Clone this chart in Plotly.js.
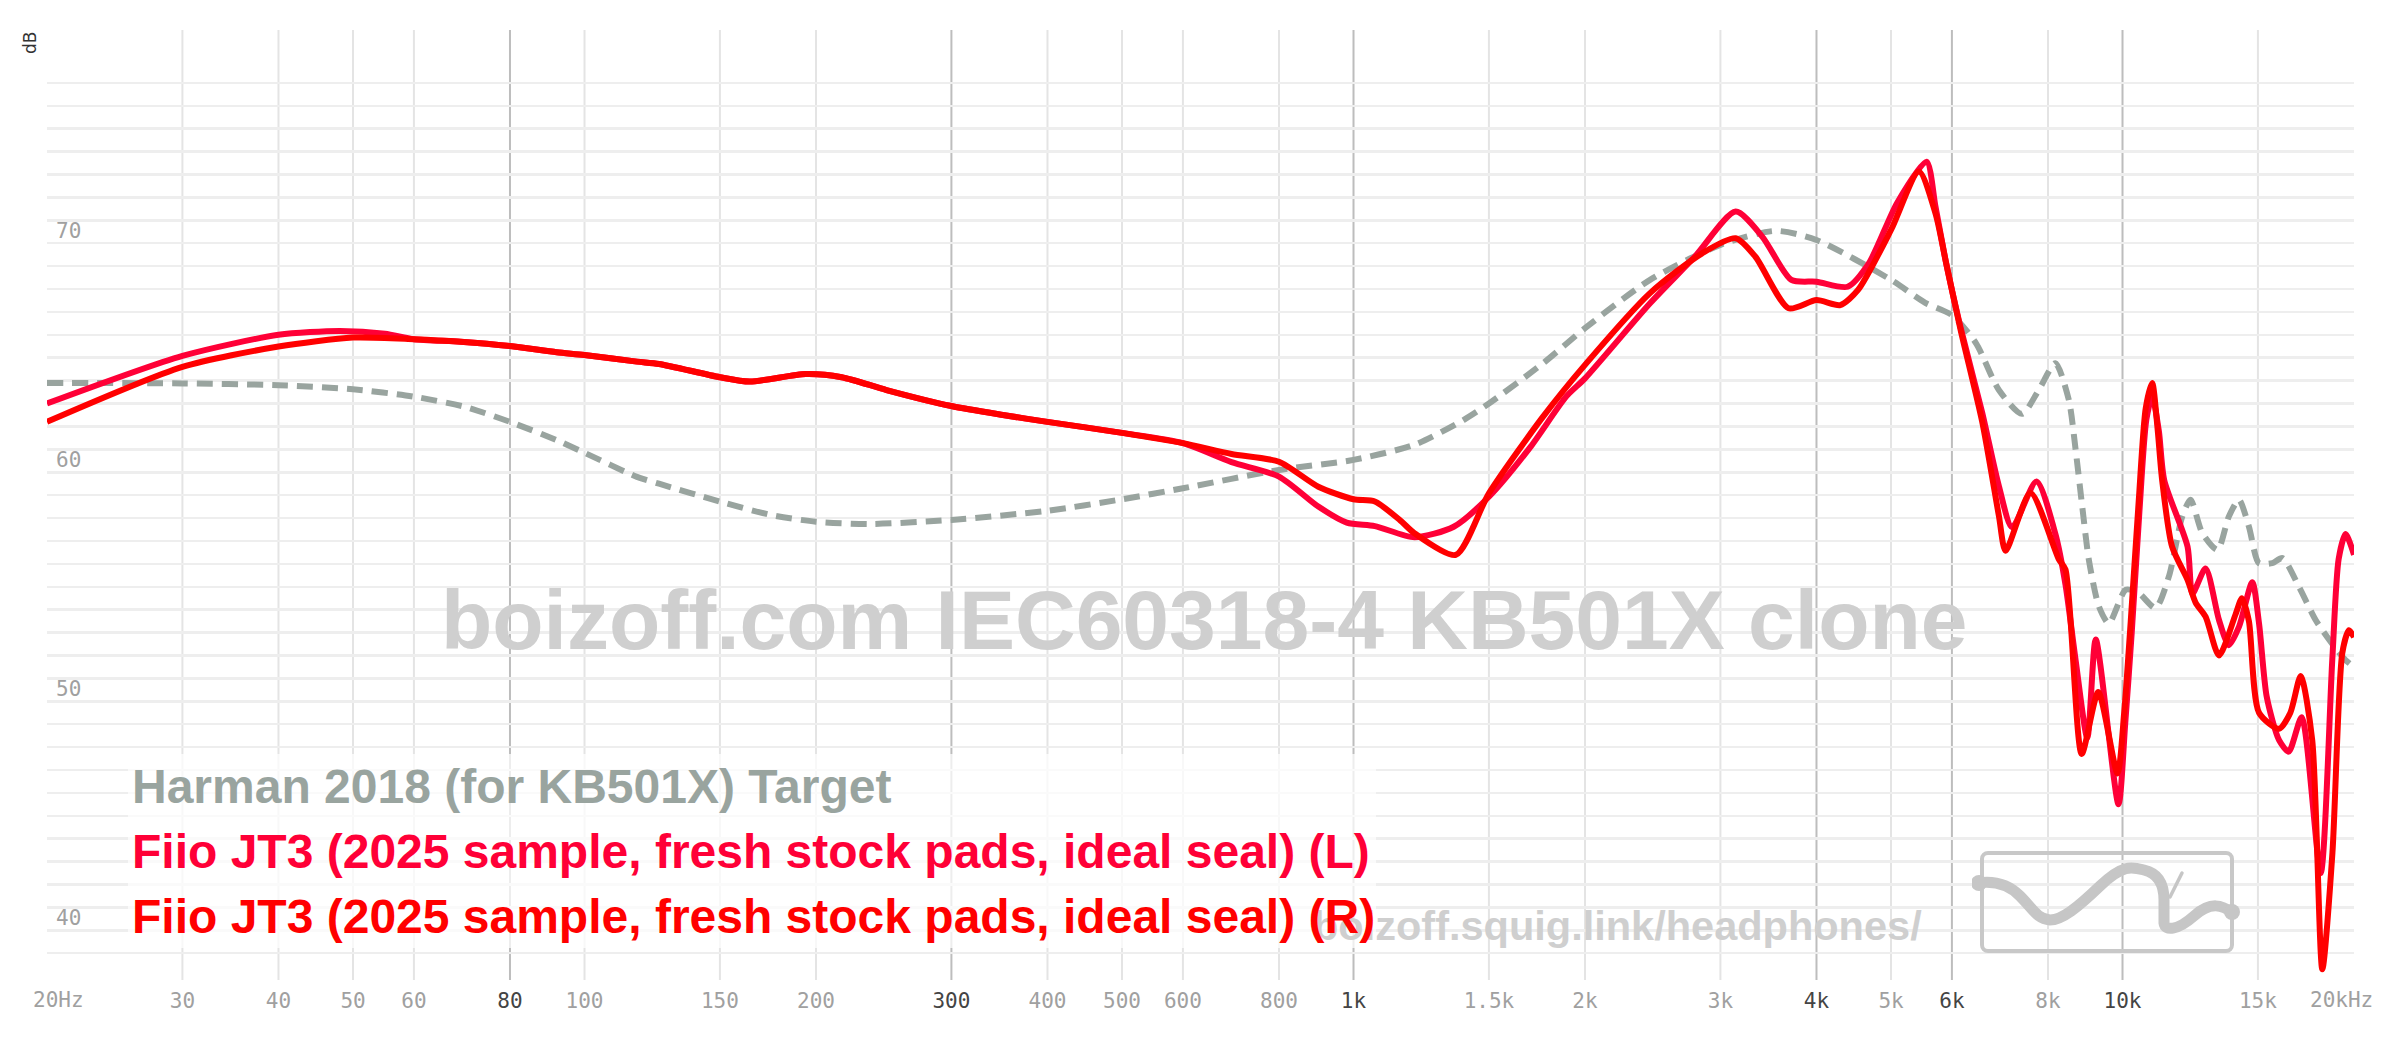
<!DOCTYPE html>
<html>
<head>
<meta charset="utf-8">
<script src="https://cdn.plot.ly/plotly-3.0.1.min.js"></script>
<style>
  html, body { margin: 0; padding: 0; background: #ffffff; }
  #chart { width: 2400px; height: 1038px; }
</style>
</head>
<body>
<div id="chart"></div>
<script>
// ---------------- DATA ----------------
const harmanName = 'Harman 2018 (for KB501X) Target';
const harmanFreq = [20,30,40,50,60,70,80,92,100,117,125,150,175,200,235,300,400,500,600,800,1000,1200,1390,1500,1764,2000,2430,3000,3540,4000,5000,5540,6000,6450,6906,7400,7781,8180,8515,8690,8864,9042,9320,9600,10100,10500,11040,11490,11960,12260,12700,13290,13750,14170,14600,15046,15660,16140,16960,17830,18740,19500,20000];
const harmanDb   = [63.9,63.88,63.8,63.62,63.3,62.85,62.2,61.4,60.85,59.8,59.5,58.72,58.13,57.84,57.74,57.92,58.32,58.82,59.3,60.1,60.54,61.2,62.28,63.0,64.76,66.29,68.4,69.93,70.54,70.14,68.4,67.4,66.86,65.63,63.59,62.55,63.59,64.76,63.16,60.98,58.5,56.17,54.13,53.4,54.87,54.72,54.07,55.45,58.07,58.8,57.34,56.61,58.07,58.8,57.63,56.03,56.03,56.25,55.0,53.55,52.5,51.8,51.5];

const leftName = 'Fiio JT3 (2025 sample, fresh stock pads, ideal seal) (L)';
const leftFreq = [20,30,40,48,55,60,69,80,92,100,117,125,150,164,194,216,247,300,350,400,500,600,694,800,900,980,1066,1200,1350,1500,1700,1890,2000,2430,2780,3140,3400,3710,4000,4390,4680,5090,5560,5712,5900,6160,6570,6906,7185,7730,8180,8430,8690,9000,9230,9880,10080,10280,10520,10740,10930,11150,11330,12150,12330,12824,13350,13750,14175,14750,15050,15400,15980,16450,17100,18100,18740,19100,19500,20000];
const leftDb   = [63.0,65.08,66.0,66.17,66.05,65.81,65.7,65.51,65.24,65.12,64.83,64.73,64.15,63.96,64.29,64.15,63.59,62.89,62.5,62.2,61.72,61.27,60.44,59.81,58.5,57.8,57.65,57.16,57.62,58.93,61.12,63.3,64.1,67.38,69.42,71.38,70.29,68.4,68.32,68.1,69.13,71.75,73.56,71.6,69.1,66.3,62.6,59.4,57.6,59.6,57.3,55.1,51.8,48.4,52.7,45.5,49.0,53.0,58.3,62.3,63.3,61.8,59.66,56.75,54.7,55.8,53.55,52.45,53.26,55.2,53.4,50.2,48.3,47.8,49.3,42.5,51.8,56.2,57.3,56.4];

const rightName = 'Fiio JT3 (2025 sample, fresh stock pads, ideal seal) (R)';
const rightFreq = [20,30,40,50,60,69,80,92,100,117,125,150,164,194,216,247,300,350,400,500,600,694,800,900,1000,1066,1150,1200,1358,1500,1764,2000,2430,2840,3140,3330,3680,4000,4295,4530,5000,5435,5712,5900,6160,6570,6906,7046,7592,8264,8430,8850,9300,9850,10050,10250,10500,10720,10930,11100,11260,11600,12150,12450,12824,13350,14030,14300,14600,15050,15980,16530,17050,17650,18190,18750,19310,19700,20000];
const rightDb   = [62.2,64.6,65.49,65.88,65.81,65.7,65.51,65.24,65.12,64.83,64.73,64.15,63.96,64.29,64.15,63.59,62.89,62.5,62.2,61.72,61.27,60.8,60.46,59.37,58.82,58.72,57.9,57.34,56.39,59.08,62.43,64.69,67.82,69.56,70.22,69.42,67.16,67.52,67.3,67.96,70.58,73.13,71.3,69.1,66.2,62.2,58.1,56.57,59.1,56.2,55.75,47.7,50.4,46.85,49.5,53.5,58.8,62.8,63.9,62.0,59.66,56.75,55.3,54.3,53.7,52.0,53.8,54.5,53.5,49.5,48.8,49.5,51.1,48.3,38.3,43.4,52.1,53.1,52.8];

// ---------------- TICKS / LABELS ----------------
const xTickVals   = [20,30,40,50,60,80,100,150,200,300,400,500,600,800,1000,1500,2000,3000,4000,5000,6000,8000,10000,15000,20000];
const xTickLabels = ['20Hz','30','40','50','60','80','100','150','200','300','400','500','600','800','1k','1.5k','2k','3k','4k','5k','6k','8k','10k','15k','20kHz'];
const xDarkTicks  = [80,300,1000,4000,6000,10000];
const yGridVals   = [39,40,41,42,43,44,45,46,47,48,49,50,51,52,53,54,55,56,57,58,59,60,61,62,63,64,65,66,67,68,69,70,71,72,73,74,75,76,77];
const yLabelVals  = [40,50,60,70];
const yAxisTitle  = 'dB';
const watermarkText = 'boizoff.com IEC60318-4 KB501X clone';
const urlText = 'boizoff.squig.link/headphones/';

// ---------------- STYLE ----------------
const C_HARMAN = '#99a49f';
const C_LEFT = '#ff0037';
const C_RIGHT = '#ff0000';
const SANS = "'Liberation Sans', Arial, Helvetica, sans-serif";
const MONO = "'DejaVu Sans Mono', 'Liberation Mono', monospace";

const W = 2400, H = 1038;
const M = {l: 47, r: 46, t: 30, b: 58};
const plotW = W - M.l - M.r, plotH = H - M.t - M.b;
const pxX = px => (px - M.l) / plotW;
const pxY = py => 1 - (py - M.t) / plotH;

const traces = [
  {x: harmanFreq, y: harmanDb, name: harmanName, type: 'scatter', mode: 'lines',
   line: {color: C_HARMAN, width: 6, dash: '16px,9px', shape: 'spline', smoothing: 0.7}, hoverinfo: 'skip'},
  {x: leftFreq, y: leftDb, name: leftName, type: 'scatter', mode: 'lines',
   line: {color: C_LEFT, width: 6, shape: 'spline', smoothing: 0.7}, hoverinfo: 'skip'},
  {x: rightFreq, y: rightDb, name: rightName, type: 'scatter', mode: 'lines',
   line: {color: C_RIGHT, width: 6, shape: 'spline', smoothing: 0.7}, hoverinfo: 'skip'}
];

const innerVals = xTickVals.slice(1, -1);
const innerText = xTickLabels.slice(1, -1).map((t, i) =>
  xDarkTicks.includes(innerVals[i]) ? '<span style="color:#444444">' + t + '</span>' : t);

const shapes = innerVals.map(v => ({
  type: 'line', xref: 'x', yref: 'paper', x0: v, x1: v, y0: 0, y1: 1, layer: 'below',
  line: {color: xDarkTicks.includes(v) ? '#bdbdbd' : '#e4e4e4', width: 2}
}));
// translucent white panel behind the legend texts
shapes.push({type: 'rect', xref: 'paper', yref: 'paper',
  x0: pxX(128), x1: pxX(1376), y0: pxY(948), y1: pxY(754), layer: 'above',
  fillcolor: 'rgba(255,255,255,0.72)', line: {width: 0}});

const annotations = [
  {text: yAxisTitle, xref: 'paper', yref: 'paper', x: pxX(30), y: pxY(43), textangle: -90,
   showarrow: false, xanchor: 'center', yanchor: 'middle',
   font: {family: "'DejaVu Sans', sans-serif", size: 17, color: '#333333'}},
  {text: xTickLabels[0], xref: 'paper', yref: 'paper', x: pxX(58.5), y: pxY(1000),
   showarrow: false, xanchor: 'center', yanchor: 'middle', font: {family: MONO, size: 21, color: '#a0a0a0'}},
  {text: xTickLabels[xTickLabels.length - 1], xref: 'paper', yref: 'paper', x: pxX(2341), y: pxY(1000),
   showarrow: false, xanchor: 'center', yanchor: 'middle', font: {family: MONO, size: 21, color: '#a0a0a0'}},
  {text: watermarkText, xref: 'paper', yref: 'paper', x: pxX(439), y: pxY(620),
   showarrow: false, xanchor: 'left', yanchor: 'middle',
   font: {family: SANS, size: 84, weight: 700, color: '#cfcfcf'}},
  {text: urlText, xref: 'paper', yref: 'paper', x: pxX(1311), y: pxY(925),
   showarrow: false, xanchor: 'left', yanchor: 'middle',
   font: {family: SANS, size: 41.5, weight: 700, color: '#cfcfcf'}}
];
[[harmanName, C_HARMAN, 786], [leftName, C_LEFT, 851], [rightName, C_RIGHT, 916]].forEach(([t, c, py]) => {
  annotations.push({text: t, xref: 'paper', yref: 'paper', x: pxX(130), y: pxY(py),
    showarrow: false, xanchor: 'left', yanchor: 'middle',
    font: {family: SANS, size: 48, weight: 700, color: c}});
});

const logoSvg =
  '<svg xmlns="http://www.w3.org/2000/svg" width="272" height="112" viewBox="-10 -6 272 112">' +
  '<rect x="0" y="0" width="250" height="98" rx="6" ry="6" fill="none" stroke="#c8c8c8" stroke-width="4"/>' +
  '<path d="M -4 30 C 10 28 25 30 38 43 S 55 66 68 67 C 80 67 95 55 118 33 S 150 14 162 17 C 175 20 182 30 182 47 L 182 70 C 183 78 195 78 212 63 S 240 52 251 60" fill="none" stroke="#c6c6c6" stroke-width="11" stroke-linecap="round" stroke-linejoin="round"/>' +
  '<path d="M 188 44 L 200 20" fill="none" stroke="#c6c6c6" stroke-width="3.5" stroke-linecap="round"/>' +
  '<circle cx="-3" cy="30" r="8" fill="#c6c6c6"/><circle cx="250" cy="59" r="8" fill="#c6c6c6"/>' +
  '</svg>';

const layout = {
  width: W, height: H,
  margin: M,
  paper_bgcolor: '#ffffff', plot_bgcolor: '#ffffff',
  showlegend: false,
  xaxis: {
    type: 'log', range: [Math.log10(20), Math.log10(20000)],
    tickmode: 'array', tickvals: innerVals, ticktext: innerText,
    showgrid: false, zeroline: false, showline: false, ticks: '',
    ticklabelstandoff: 6,
    tickfont: {family: MONO, size: 21, color: '#a0a0a0'}
  },
  yaxis: {
    range: [37.83, 79.31],
    tickmode: 'array', tickvals: yGridVals,
    ticktext: yGridVals.map(v => yLabelVals.includes(v) ? String(v) : ''),
    ticklabelposition: 'inside', ticklabelshift: -13, ticklabelstandoff: 6,
    showgrid: true, gridcolor: '#eeeeee', gridwidth: 2.5,
    zeroline: false, showline: false, ticks: '',
    tickfont: {family: MONO, size: 21, color: '#a0a0a0'}
  },
  shapes: shapes,
  annotations: annotations,
  images: [{
    source: 'data:image/svg+xml;charset=utf-8,' + encodeURIComponent(logoSvg),
    xref: 'paper', yref: 'paper', x: pxX(1972), y: pxY(847),
    sizex: 272 / plotW, sizey: 112 / plotH, xanchor: 'left', yanchor: 'top',
    sizing: 'stretch', layer: 'above'
  }]
};

Plotly.newPlot('chart', traces, layout, {staticPlot: true, displayModeBar: false});
</script>
</body>
</html>
